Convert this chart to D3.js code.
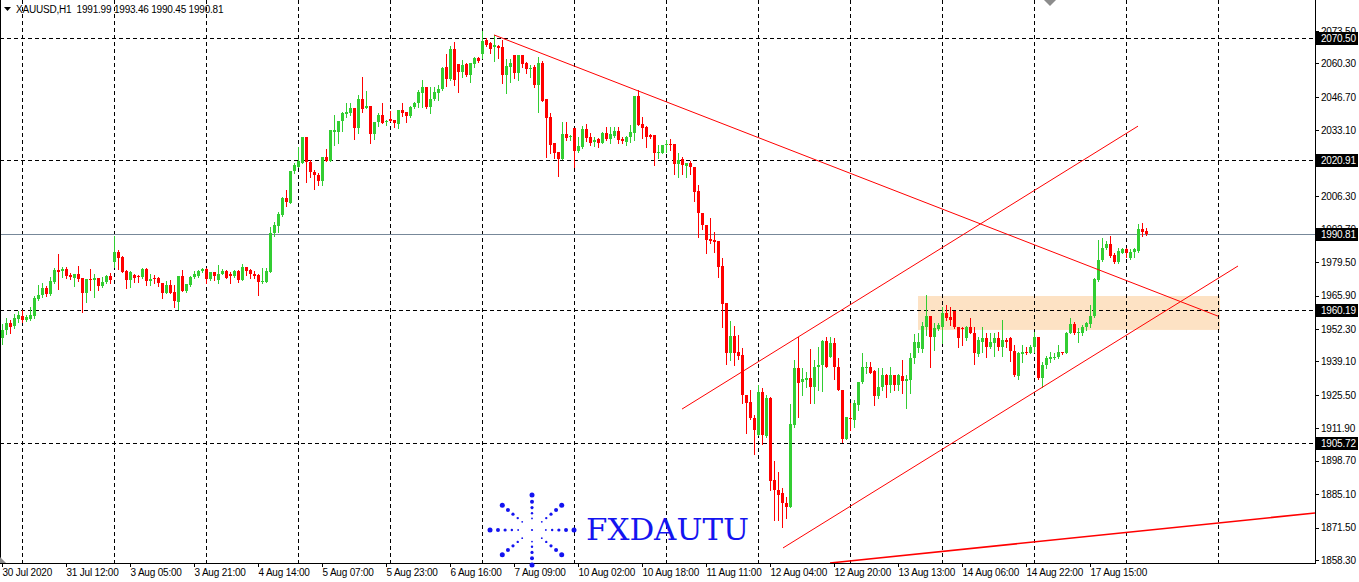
<!DOCTYPE html>
<html><head><meta charset="utf-8">
<script src="https://cdn.jsdelivr.net/npm/d3@7"></script>
<style>
html,body{margin:0;padding:0;background:#fff;overflow:hidden}
svg{display:block}
text{font-family:"Liberation Sans",Arial,sans-serif}
</style>
</head><body>
<svg id="c" width="1359" height="582"></svg>
<script>
// ---------------- DATA ----------------
const symbolTitle = "XAUUSD,H1";
const headerQuote = [1991.99, 1993.46, 1990.45, 1990.81];

const opens = [
1948.6,1951.9,1954.7,1953.5,1956.3,1957.6,1955.9,1956.3,1957.6,1964.5,
1966.1,1968.9,1966.5,1971.4,1976.3,1975.9,1976.7,1974.2,1973.0,1974.6,
1973.0,1966.9,1972.6,1972.2,1973.0,1969.8,1971.4,1973.8,1979.5,1983.6,
1981.5,1975.9,1972.2,1974.2,1973.8,1973.4,1976.7,1971.8,1973.0,1973.0,
1971.0,1966.9,1970.2,1967.3,1963.3,1973.8,1967.7,1970.2,1973.4,1973.8,
1975.9,1976.7,1972.6,1975.5,1972.2,1974.6,1975.9,1974.6,1973.8,1975.9,
1972.2,1977.5,1976.3,1974.6,1974.2,1971.4,1971.4,1975.5,1991.3,1994.2,
1998.6,2005.6,2003.5,2016.5,2018.2,2019.8,2030.4,2020.2,2016.1,2014.9,
2012.5,2022.2,2020.6,2032.4,2032.4,2036.9,2039.7,2040.1,2042.2,2034.0,
2045.8,2042.2,2043.0,2031.6,2036.5,2039.3,2036.5,2037.7,2037.3,2035.7,
2041.4,2040.5,2038.9,2042.6,2044.2,2048.3,2050.7,2042.6,2045.8,2048.3,
2049.9,2058.8,2054.0,2066.2,2060.1,2056.8,2060.1,2055.6,2060.1,2062.5,
2064.1,2069.8,2068.6,2067.0,2067.4,2067.0,2055.6,2058.8,2063.7,2056.4,
2063.7,2060.5,2058.0,2058.8,2051.5,2060.5,2045.8,2038.5,2027.9,2024.3,
2021.4,2031.6,2030.4,2034.0,2024.7,2026.3,2033.6,2030.4,2028.3,2029.6,
2027.9,2032.0,2029.6,2030.8,2032.8,2029.6,2028.3,2030.4,2032.0,2047.0,
2035.7,2034.4,2031.2,2031.2,2023.9,2023.9,2027.1,2027.5,2027.5,2019.4,
2021.4,2018.6,2019.8,2018.2,2008.4,1999.5,1994.6,1988.9,1988.5,1988.1,
1977.9,1962.8,1942.5,1949.4,1942.9,1941.7,1925.4,1922.6,1916.1,1909.1,
1926.6,1908.7,1924.2,1890.8,1886.8,1885.5,1881.5,1879.8,1913.2,1936.4,
1930.7,1931.5,1932.3,1928.7,1936.8,1937.6,1947.4,1940.9,1946.6,1936.8,
1927.4,1907.5,1916.1,1915.2,1921.4,1930.7,1936.4,1936.8,1935.2,1925.0,
1928.7,1933.6,1929.5,1933.6,1929.5,1933.1,1931.1,1931.5,1940.5,1944.5,
1944.1,1953.1,1957.6,1949.0,1952.3,1953.1,1958.8,1957.1,1959.6,1953.1,
1952.7,1948.6,1953.1,1950.7,1942.1,1947.0,1948.6,1944.9,1946.6,1948.6,
1944.9,1947.8,1948.6,1943.3,1933.1,1942.1,1942.9,1942.5,1944.9,1949.0,
1932.3,1937.6,1940.1,1940.5,1940.9,1942.9,1942.5,1950.7,1954.3,1950.7,
1950.7,1953.1,1954.3,1957.6,1972.2,1980.3,1985.2,1986.8,1982.4,1979.5,
1983.2,1984.8,1981.1,1983.6,1984.0,1992.9,1991.99];

const highs = [
1954.3,1956.7,1955.9,1958.4,1959.6,1960.0,1958.0,1961.2,1965.7,1970.2,
1971.0,1969.8,1973.4,1977.1,1982.8,1977.5,1977.5,1975.0,1974.6,1977.9,
1973.0,1972.6,1976.7,1974.6,1973.0,1973.4,1974.2,1975.0,1990.1,1984.4,
1982.0,1976.3,1975.9,1974.6,1974.2,1977.1,1977.1,1974.6,1974.2,1973.4,
1971.0,1971.8,1972.2,1970.2,1973.8,1976.3,1970.6,1973.8,1975.9,1976.3,
1977.1,1977.1,1975.5,1975.5,1978.3,1976.7,1976.3,1975.5,1976.3,1976.3,
1978.7,1977.5,1976.7,1975.9,1974.6,1977.1,1977.1,1993.8,1995.8,1999.9,
2006.0,2008.8,2016.5,2019.8,2026.3,2030.4,2030.4,2021.0,2016.9,2015.7,
2022.2,2025.5,2033.2,2039.3,2036.9,2040.5,2044.2,2044.2,2042.2,2047.5,
2054.8,2049.1,2043.0,2036.5,2040.1,2044.2,2037.3,2040.9,2037.3,2041.4,
2044.2,2040.5,2043.0,2044.6,2049.5,2053.6,2050.7,2050.7,2050.7,2051.5,
2058.8,2064.1,2067.4,2069.0,2060.1,2061.7,2060.5,2060.5,2062.9,2062.9,
2073.5,2070.6,2069.0,2071.9,2067.8,2069.8,2062.1,2062.1,2063.7,2063.7,
2063.7,2060.9,2059.7,2059.7,2062.9,2061.3,2045.8,2040.1,2027.9,2024.3,
2036.5,2036.5,2031.2,2034.0,2030.4,2034.8,2035.7,2032.0,2030.4,2030.0,
2032.4,2034.4,2034.4,2034.4,2034.4,2030.4,2030.8,2035.2,2047.0,2049.5,
2038.5,2034.8,2031.6,2031.2,2027.1,2027.1,2029.2,2029.6,2027.5,2023.9,
2022.2,2019.8,2020.6,2018.2,2010.8,1999.5,1994.6,1997.4,1991.7,1988.1,
1981.1,1962.8,1955.5,1953.5,1949.8,1944.5,1925.4,1927.4,1917.3,1929.5,
1928.3,1925.4,1924.6,1898.6,1894.1,1887.6,1883.9,1921.8,1939.7,1949.0,
1936.4,1934.8,1944.1,1939.7,1944.9,1947.8,1949.0,1949.0,1948.6,1940.5,
1927.4,1916.5,1922.2,1923.4,1930.7,1942.5,1938.8,1938.8,1935.6,1936.4,
1936.4,1934.0,1936.8,1933.6,1934.0,1939.7,1933.6,1942.5,1950.2,1950.6,
1955.1,1966.1,1957.6,1954.7,1954.7,1961.2,1962.0,1961.2,1959.6,1953.1,
1953.1,1953.5,1956.7,1953.1,1949.0,1953.1,1950.7,1950.7,1950.7,1951.1,
1955.9,1948.6,1949.0,1945.8,1942.9,1945.8,1944.9,1945.8,1951.1,1949.0,
1938.8,1941.3,1942.9,1942.5,1945.8,1942.9,1951.1,1956.7,1955.1,1952.7,
1953.9,1955.1,1962.0,1973.0,1988.5,1989.3,1988.1,1990.1,1983.2,1985.2,
1985.2,1985.2,1984.8,1985.2,1995.0,1995.4,1993.46];

const lows = [
1946.2,1950.3,1950.7,1952.7,1955.1,1955.1,1955.5,1955.9,1956.7,1964.1,
1965.3,1965.7,1966.1,1971.0,1968.5,1973.4,1973.0,1972.6,1969.8,1971.8,
1959.2,1963.3,1968.1,1965.3,1968.1,1969.3,1971.0,1971.0,1977.5,1976.7,
1975.5,1968.9,1969.3,1971.4,1971.4,1973.0,1970.2,1970.2,1971.0,1969.8,
1964.9,1966.9,1966.9,1961.2,1960.4,1967.7,1967.3,1969.8,1973.0,1973.4,
1975.5,1971.0,1972.2,1972.2,1971.0,1974.6,1973.0,1971.0,1973.4,1971.4,
1972.2,1974.2,1973.0,1973.0,1966.1,1971.0,1971.4,1975.5,1990.1,1991.7,
1998.2,2002.3,2003.5,2015.7,2018.2,2019.8,2012.1,2014.1,2009.2,2010.8,
2010.8,2020.6,2020.6,2027.1,2027.9,2032.8,2038.5,2039.3,2029.6,2032.0,
2040.5,2042.2,2027.9,2029.6,2034.8,2036.1,2035.2,2036.9,2034.4,2034.0,
2038.9,2036.5,2038.5,2042.2,2042.6,2042.6,2042.2,2040.1,2045.4,2045.4,
2049.5,2051.1,2053.6,2051.5,2048.7,2054.8,2055.2,2052.7,2058.8,2060.9,
2062.5,2067.4,2064.5,2061.3,2062.5,2052.3,2048.3,2052.7,2054.4,2053.6,
2058.8,2056.4,2054.8,2050.7,2040.5,2045.0,2022.2,2023.9,2021.8,2014.5,
2021.4,2029.2,2029.2,2018.2,2024.3,2025.9,2028.7,2027.1,2026.7,2026.3,
2027.9,2029.2,2027.9,2030.4,2027.9,2027.9,2027.1,2028.3,2029.2,2035.2,
2030.0,2026.3,2030.0,2019.0,2021.8,2023.9,2024.3,2025.1,2015.3,2014.1,
2015.3,2014.1,2015.3,2004.3,1989.7,1992.9,1983.2,1987.2,1983.6,1973.4,
1953.1,1938.0,1939.7,1937.6,1940.1,1922.2,1910.0,1915.6,1901.4,1909.1,
1905.5,1908.3,1886.8,1874.6,1874.6,1871.7,1875.4,1879.8,1912.4,1916.5,
1925.4,1928.7,1922.2,1922.2,1927.4,1927.0,1936.8,1940.9,1931.9,1927.4,
1906.3,1907.5,1911.2,1912.4,1919.3,1930.3,1934.4,1934.4,1921.4,1924.2,
1927.4,1924.6,1926.6,1927.4,1927.4,1926.2,1920.1,1926.2,1938.4,1942.9,
1942.9,1949.8,1936.8,1943.7,1951.9,1946.6,1955.9,1953.9,1952.7,1944.9,
1945.8,1947.8,1950.7,1938.0,1941.3,1942.9,1940.9,1944.5,1941.3,1943.7,
1941.3,1944.9,1939.2,1933.1,1931.9,1938.8,1942.1,1942.5,1942.9,1931.9,
1928.7,1936.4,1938.8,1940.1,1940.5,1942.1,1942.5,1950.7,1950.3,1947.0,
1949.8,1951.9,1953.1,1957.1,1971.8,1979.9,1984.8,1981.5,1979.1,1979.1,
1983.2,1981.5,1980.7,1981.5,1983.6,1990.1,1990.45];

const closes = [
1951.9,1954.7,1953.1,1956.7,1958.0,1955.9,1957.1,1958.0,1964.9,1966.1,
1968.9,1966.5,1971.8,1976.3,1975.5,1976.7,1973.8,1973.4,1974.6,1972.6,
1966.9,1972.6,1972.2,1973.0,1969.8,1971.4,1973.8,1972.2,1983.6,1981.1,
1975.5,1972.2,1975.5,1973.0,1973.4,1976.7,1971.8,1972.6,1972.6,1971.0,
1966.9,1970.2,1966.9,1963.7,1973.8,1967.7,1970.6,1973.4,1974.6,1975.9,
1976.7,1972.6,1975.5,1973.8,1974.6,1975.9,1973.0,1973.8,1975.9,1972.2,
1977.5,1975.9,1974.6,1973.8,1971.4,1971.8,1975.9,1991.3,1994.6,1999.0,
2005.6,2003.9,2016.5,2019.0,2020.6,2030.4,2020.2,2016.1,2014.9,2012.5,
2022.2,2020.6,2033.2,2033.2,2036.9,2040.1,2040.5,2042.2,2034.0,2045.8,
2041.8,2043.0,2031.6,2036.5,2039.3,2036.1,2036.9,2036.9,2036.1,2041.4,
2040.1,2038.9,2042.6,2044.2,2048.7,2050.7,2042.6,2045.8,2048.7,2049.9,
2058.4,2054.0,2066.2,2053.6,2056.8,2059.7,2055.6,2060.5,2062.5,2061.3,
2069.4,2067.8,2066.2,2067.8,2066.6,2055.6,2059.3,2060.5,2056.4,2063.7,
2060.1,2058.0,2058.4,2051.5,2060.5,2045.0,2038.1,2027.1,2023.9,2021.4,
2031.6,2030.0,2030.8,2024.7,2026.7,2033.6,2030.0,2027.9,2029.2,2027.9,
2032.0,2029.6,2031.6,2032.8,2029.2,2028.7,2030.4,2032.4,2047.0,2035.2,
2034.0,2030.4,2030.4,2023.9,2024.3,2027.1,2027.5,2027.1,2019.4,2021.0,
2019.0,2019.8,2018.2,2008.0,1999.5,1994.6,1988.5,1988.1,1987.7,1977.5,
1962.4,1942.5,1949.4,1942.5,1941.3,1925.4,1922.2,1916.1,1911.2,1926.6,
1909.1,1924.2,1890.4,1886.8,1884.7,1881.5,1879.8,1913.6,1936.4,1930.3,
1931.9,1932.3,1928.7,1936.8,1937.6,1947.4,1936.8,1946.6,1936.8,1927.4,
1907.5,1916.5,1915.6,1922.2,1930.7,1936.8,1936.8,1934.4,1925.0,1928.7,
1933.6,1929.5,1933.6,1929.5,1933.6,1931.1,1931.9,1940.5,1947.0,1947.0,
1953.5,1957.6,1949.0,1952.7,1953.9,1958.8,1956.7,1955.9,1953.1,1948.6,
1952.3,1953.1,1950.7,1942.5,1947.8,1948.6,1944.9,1947.0,1948.6,1944.9,
1947.8,1947.0,1943.3,1933.6,1942.5,1942.9,1942.5,1944.9,1949.0,1932.3,
1937.6,1940.5,1940.9,1940.9,1942.9,1942.5,1950.7,1954.3,1950.7,1951.1,
1953.1,1954.7,1957.6,1972.6,1980.3,1985.2,1986.8,1982.0,1979.5,1984.0,
1984.8,1983.2,1983.6,1984.8,1992.9,1991.7,1990.81];

const timeLabels = ["30 Jul 2020","31 Jul 12:00","3 Aug 05:00","3 Aug 21:00","4 Aug 14:00",
"5 Aug 07:00","5 Aug 23:00","6 Aug 16:00","7 Aug 09:00","10 Aug 02:00","10 Aug 18:00",
"11 Aug 11:00","12 Aug 04:00","12 Aug 20:00","13 Aug 13:00","14 Aug 06:00","14 Aug 22:00","17 Aug 15:00"];
const barsPerLabel = 16;
const gridFirstBar = 5, barsPerGrid = 23, gridCount = 14;

const priceTicks = [2073.50,2060.30,2046.70,2033.10,2019.50,2006.30,1992.70,1979.50,1965.90,
1952.30,1939.10,1925.50,1911.90,1898.70,1885.10,1871.50,1858.30];
const levelPrices = [2070.50, 2020.91, 1960.19, 1905.72];
const bidPrice = 1990.81;

// trend lines: [bar index, price] -> [bar index, price]
const lineStartBar = [123, 170, 195.25, 207];
const lineStartPrice = [2071.9, 1919.7, 1863.2, 1857.1];
const lineEndBar = [304, 284, 309, 328.25];
const lineEndPrice = [1957.5, 2034.8, 1977.9, 1877.4];

// supply/demand zone: bars and prices
const zoneBars = [229, 304.5];
const zonePrices = [1965.7, 1951.9];

// ---------------- DRAW ----------------
const W = 1359, H = 582, plotR = 1315, plotB = 563;
const svg = d3.select("#c");
const nBars = closes.length;

const x = d3.scaleLinear().domain([0, (plotR - 2) / 4]).range([2, plotR]);
const y = d3.scaleLinear().domain([1858.3, 2073.5]).range([560, 31]);

svg.append("rect").attr("width", W).attr("height", H).attr("fill", "#fff");
svg.append("defs").append("clipPath").attr("id", "plot")
  .append("rect").attr("x", 0).attr("y", 0).attr("width", plotR).attr("height", plotB);

const plot = svg.append("g").attr("clip-path", "url(#plot)");

// zone rectangle
plot.append("rect")
  .attr("x", x(zoneBars[0])).attr("width", x(zoneBars[1]) - x(zoneBars[0]))
  .attr("y", y(zonePrices[0])).attr("height", y(zonePrices[1]) - y(zonePrices[0]))
  .attr("fill", "#fde2c4");

// vertical grid
const gridBars = d3.range(gridCount).map(k => gridFirstBar + k * barsPerGrid);
plot.selectAll("line.vg").data(gridBars).join("line")
  .attr("x1", d => Math.round(x(d)) + 0.5).attr("x2", d => Math.round(x(d)) + 0.5)
  .attr("y1", 0).attr("y2", plotB)
  .attr("stroke", "#000").attr("stroke-width", 1).attr("stroke-dasharray", "4,3")
  .attr("shape-rendering", "crispEdges");

// horizontal levels
plot.selectAll("line.lv").data(levelPrices).join("line")
  .attr("x1", 0).attr("x2", plotR)
  .attr("y1", d => Math.round(y(d)) + 0.5).attr("y2", d => Math.round(y(d)) + 0.5)
  .attr("stroke", "#000").attr("stroke-dasharray", "4,3")
  .attr("shape-rendering", "crispEdges");

// bid line
plot.append("line").attr("x1", 0).attr("x2", plotR)
  .attr("y1", Math.round(y(bidPrice)) + 0.5).attr("y2", Math.round(y(bidPrice)) + 0.5)
  .attr("stroke", "#778899").attr("shape-rendering", "crispEdges");

// candles
const bars = d3.range(nBars);
const up = i => closes[i] >= opens[i];
const cg = plot.append("g").attr("shape-rendering", "crispEdges");
cg.selectAll("line.w").data(bars).join("line")
  .attr("x1", i => Math.round(x(i)) + 0.5).attr("x2", i => Math.round(x(i)) + 0.5)
  .attr("y1", i => Math.round(y(highs[i]))).attr("y2", i => Math.round(y(lows[i])) + 1)
  .attr("stroke", i => up(i) ? "#32cd32" : "#ff0000");
cg.selectAll("rect.b").data(bars).join("rect")
  .attr("x", i => Math.round(x(i)) - 1).attr("width", 3)
  .attr("y", i => Math.round(y(Math.max(opens[i], closes[i]))))
  .attr("height", i => Math.max(1, Math.round(y(Math.min(opens[i], closes[i]))) - Math.round(y(Math.max(opens[i], closes[i])))))
  .attr("fill", i => up(i) ? "#32cd32" : "#ff0000");

// trend lines
plot.selectAll("line.tl").data(d3.range(lineStartBar.length)).join("line")
  .attr("x1", i => x(lineStartBar[i])).attr("y1", i => y(lineStartPrice[i]))
  .attr("x2", i => x(lineEndBar[i])).attr("y2", i => y(lineEndPrice[i]))
  .attr("stroke", "#ff0000").attr("stroke-width", i => i === 3 ? 1.6 : 1);

// frame lines
const fr = svg.append("g").attr("stroke", "#000").attr("shape-rendering", "crispEdges");
fr.append("line").attr("x1", 0.5).attr("x2", 0.5).attr("y1", 0).attr("y2", plotB);
fr.append("line").attr("x1", plotR + 0.5).attr("x2", plotR + 0.5).attr("y1", 0).attr("y2", plotB + 1);
fr.append("line").attr("x1", 0).attr("x2", plotR + 1).attr("y1", plotB + 0.5).attr("y2", plotB + 0.5);

// price axis
const yAxis = d3.axisRight(y).tickValues(priceTicks).tickSize(4).tickSizeOuter(0)
  .tickFormat(d3.format(".2f"));
const ya = svg.append("g").attr("transform", `translate(${plotR},0)`).call(yAxis);
ya.select(".domain").remove();
ya.selectAll("line").attr("stroke", "#000").attr("shape-rendering", "crispEdges");
ya.selectAll("text").attr("x", 6).attr("fill", "#000")
  .style("font-size", "10px").style("letter-spacing", "-0.2px");

// time axis
const labelBars = timeLabels.map((_, k) => k * barsPerLabel);
const xAxis = d3.axisBottom(x).tickValues(labelBars).tickSize(4).tickSizeOuter(0)
  .tickFormat((d, k) => timeLabels[k]);
const xa = svg.append("g").attr("transform", `translate(0,${plotB})`).call(xAxis);
xa.select(".domain").remove();
xa.selectAll("line").attr("stroke", "#000").attr("shape-rendering", "crispEdges");
xa.selectAll("text").attr("text-anchor", "start").attr("x", 0).attr("y", 6).attr("dy", "0.71em")
  .attr("fill", "#000").style("font-size", "10px").style("letter-spacing", "-0.2px");

// highlighted price labels
const hl = levelPrices.concat([bidPrice]);
const hg = svg.append("g");
hg.selectAll("rect").data(hl).join("rect")
  .attr("x", plotR + 1).attr("width", W - plotR - 2)
  .attr("y", d => Math.round(y(d)) - 6).attr("height", 13).attr("fill", "#000");
hg.selectAll("text").data(hl).join("text")
  .attr("x", plotR + 6).attr("y", d => Math.round(y(d)) + 0.5).attr("dy", "0.35em")
  .attr("fill", "#fff").style("font-size", "10px").style("letter-spacing", "-0.2px")
  .text(d => d3.format(".2f")(d));

// header
svg.append("path").attr("d", "M4,7 L11,7 L7.5,11 Z").attr("fill", "#000");
svg.append("text").attr("x", 16).attr("y", 13).attr("fill", "#000")
  .style("font-size", "10px").style("letter-spacing", "-0.2px").attr("xml:space", "preserve")
  .text(symbolTitle + "  " + headerQuote.map(d3.format(".2f")).join(" "));

// chart shift marker
svg.append("path").attr("d", "M1044,0 L1056,0 L1050,6 Z").attr("fill", "#8c8c8c");
svg.append("path").attr("d", "M0,557 L6,563 L0,563 Z").attr("fill", "#8c8c8c");

// logo
const lg = svg.append("g").attr("fill", "#1414f0");
const cx = 532, cy = 530, rx = 42, ry = 35;
const fr2 = [0.33, 0.48, 0.64, 0.81, 1.0], rr = [0.9, 1.2, 1.6, 2.0, 2.5];
for (let a = 0; a < 8; a++) {
  const t = a * Math.PI / 4;
  fr2.forEach((f, j) => {
    lg.append("circle").attr("cx", cx + Math.cos(t) * rx * f).attr("cy", cy + Math.sin(t) * ry * f).attr("r", rr[j]);
  });
}
lg.append("circle").attr("cx", cx).attr("cy", cy).attr("r", 1.1);
lg.append("text").attr("x", 586).attr("y", 540)
  .attr("textLength", 163).attr("lengthAdjust", "spacingAndGlyphs")
  .style("font-family", "'DejaVu Serif','Liberation Serif',serif").style("font-size", "30px")
  .text("FXDAUTU");
</script>
</body></html>
